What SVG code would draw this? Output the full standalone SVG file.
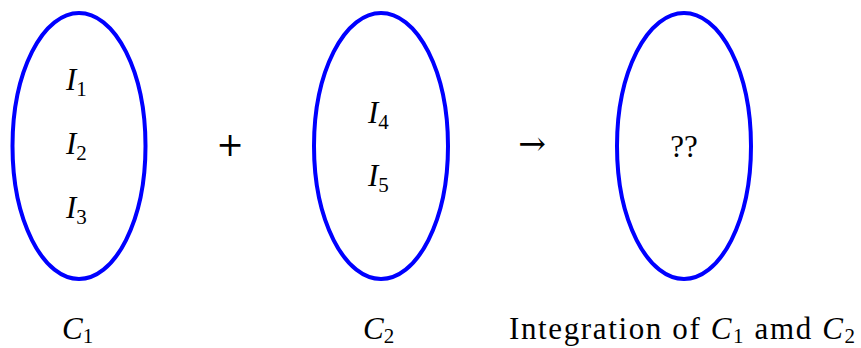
<svg xmlns="http://www.w3.org/2000/svg" width="861" height="348" viewBox="0 0 861 348">
<style>
.set{fill:none;stroke:#0000ff;stroke-width:4}
.t{font-family:"Liberation Serif","DejaVu Serif",serif;font-size:31px;fill:#000}
.m{font-style:italic}
.s{font-size:21px;font-style:normal}
.op{font-family:"DejaVu Serif","Liberation Serif",serif;font-size:33px;fill:#000}
</style>
<rect width="861" height="348" fill="#fff"/>
<g id="C1">
<ellipse class="set" cx="79" cy="146" rx="66.5" ry="133"/>
<text class="t" x="66" y="90"><tspan class="m">I</tspan><tspan class="s" dy="6">1</tspan></text>
<text class="t" x="66" y="154"><tspan class="m">I</tspan><tspan class="s" dy="6">2</tspan></text>
<text class="t" x="66" y="218"><tspan class="m">I</tspan><tspan class="s" dy="6">3</tspan></text>
</g>
<g id="C2">
<ellipse class="set" cx="381" cy="146" rx="67" ry="133"/>
<text class="t" x="368" y="123"><tspan class="m">I</tspan><tspan class="s" dy="6">4</tspan></text>
<text class="t" x="368" y="186"><tspan class="m">I</tspan><tspan class="s" dy="6">5</tspan></text>
</g>
<g id="C3">
<ellipse class="set" cx="684" cy="146" rx="67" ry="133"/>
<text class="t" x="684" y="157" text-anchor="middle">??</text>
</g>
<g id="ops">
<text class="op" x="230" y="156" text-anchor="middle">+</text>
<text class="op" x="532" y="155" text-anchor="middle">→</text>
</g>
<g id="labels">
<text class="t" x="62" y="339"><tspan class="m">C</tspan><tspan class="s" dy="4">1</tspan></text>
<text class="t" x="363" y="339"><tspan class="m">C</tspan><tspan class="s" dy="4">2</tspan></text>
<text class="t" x="509" y="339" textLength="346" lengthAdjust="spacing">Integration of <tspan class="m">C</tspan><tspan class="s" dy="4">1</tspan><tspan dy="-4"> amd </tspan><tspan class="m">C</tspan><tspan class="s" dy="4">2</tspan></text>
</g>
</svg>
